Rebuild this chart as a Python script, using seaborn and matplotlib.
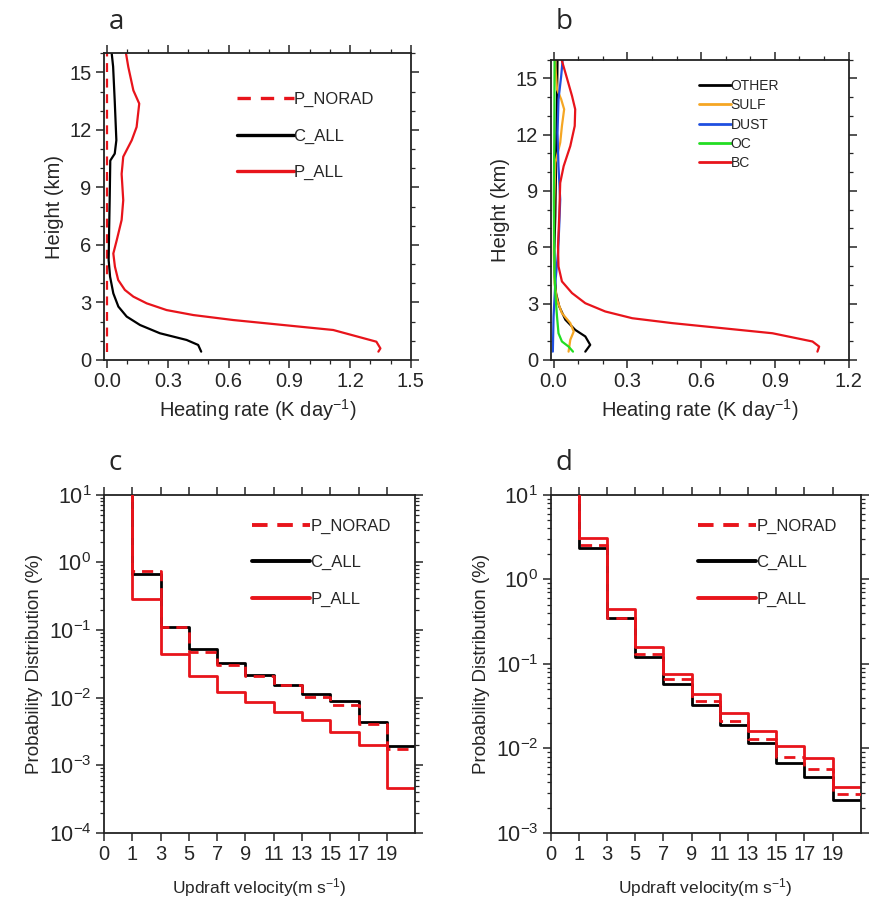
import numpy as np
import pandas as pd
import matplotlib
matplotlib.use("Agg")
import matplotlib.pyplot as plt
from matplotlib.ticker import MultipleLocator, LogLocator, NullFormatter, FuncFormatter
import seaborn as sns

# -------------------------------
# Data: heating rate profiles (panel a)
# -------------------------------
p_norad_h = [0.4, 16.0]
p_norad_rate = [0.0, 0.0]

c_all_h = [0.43, 0.78, 1.04, 1.39, 1.82, 2.26, 2.78, 3.47, 4.34, 5.2, 6.6, 8.33,
           10.4, 10.76, 11.46, 13.5, 15.3, 16.0]
c_all_rate = [0.465, 0.45, 0.393, 0.261, 0.163, 0.097, 0.056, 0.031, 0.015, 0.008,
              0.010, 0.013, 0.016, 0.038, 0.046, 0.038, 0.030, 0.023]

p_all_h = [0.43, 0.6, 0.95, 1.56, 1.82, 2.08, 2.34, 2.6, 2.95, 3.3, 3.65, 4.17, 4.86,
           5.55, 6.25, 7.3, 8.33, 9.7, 10.6, 11.46, 12.15, 13.37, 14.06, 15.28, 15.97]
p_all_rate = [1.34, 1.35, 1.33, 1.117, 0.87, 0.623, 0.426, 0.294, 0.196, 0.13, 0.088,
              0.055, 0.039, 0.031, 0.048, 0.072, 0.080, 0.072, 0.080, 0.122, 0.146,
              0.159, 0.130, 0.105, 0.094]

# -------------------------------
# Data: heating rate by species (panel b)
# -------------------------------
bc_h = [0.44, 0.71, 0.98, 1.42, 1.69, 1.96, 2.22, 2.58, 3.02, 3.56, 4.18, 4.98, 6.05,
        7.65, 9.43, 10.32, 11.39, 12.46, 13.35, 14.06, 15.3, 15.93]
bc_rate = [1.073, 1.08, 1.053, 0.89, 0.686, 0.482, 0.32, 0.21, 0.129, 0.075, 0.034,
           0.020, 0.018, 0.023, 0.027, 0.041, 0.068, 0.086, 0.088, 0.075, 0.048, 0.034]

other_h = [0.44, 0.8, 1.25, 1.6, 2.14, 2.85, 3.56, 4.63, 5.87, 7.65, 10.32, 13.88, 16.0]
other_rate = [0.129, 0.149, 0.129, 0.088, 0.048, 0.023, 0.010, 0.004, 0.003, 0.007,
              0.010, 0.014, 0.016]

sulf_h = [0.44, 1.07, 1.51, 1.96, 2.49, 3.2, 4.09, 5.7, 8.54, 10.5, 11.57, 12.46, 13.35,
          13.88, 14.41, 15.66, 16.0]
sulf_rate = [0.061, 0.068, 0.082, 0.068, 0.034, 0.014, 0.004, 0.001, 0.003, 0.007,
             0.027, 0.034, 0.043, 0.031, 0.014, 0.007, 0.007]

dust_h = [0.44, 2.31, 4.09, 5.7, 7.12, 8.54, 10.32, 12.1, 13.88, 15.12, 16.0]
dust_rate = [-0.003, 0.0, 0.007, 0.018, 0.023, 0.027, 0.020, 0.016, 0.020, 0.031, 0.037]

oc_h = [0.44, 0.71, 0.98, 1.42, 2.31, 3.56, 4.98, 8.54, 12.1, 16.0]
oc_rate = [0.079, 0.061, 0.034, 0.020, 0.014, 0.007, 0.003, 0.001, 0.003, 0.004]

# -------------------------------
# Data: updraft velocity PDFs (panels c, d)
# first value = 0-1 m/s bin (off the top of the axes)
# -------------------------------
bin_edges = [0, 1, 3, 5, 7, 9, 11, 13, 15, 17, 19, 21]
tick_labels = ["0", "1", "3", "5", "7", "9", "11", "13", "15", "17", "19"]

c_pnorad = [98.0, 0.75, 0.11, 0.048, 0.030, 0.0207, 0.0152, 0.0101, 0.0077, 0.0041, 0.00174]
c_call = [98.0, 0.68, 0.11, 0.052, 0.0325, 0.0214, 0.0156, 0.0113, 0.0088, 0.0043, 0.00195]
c_pall = [99.0, 0.287, 0.0447, 0.0207, 0.0121, 0.0087, 0.0062, 0.0047, 0.0031, 0.0020, 0.00047]

d_pnorad = [95.0, 2.52, 0.352, 0.131, 0.0664, 0.0365, 0.0211, 0.0129, 0.0080, 0.0057, 0.0029]
d_call = [95.0, 2.37, 0.346, 0.12, 0.0574, 0.0327, 0.0188, 0.0115, 0.0068, 0.0046, 0.00244]
d_pall = [94.0, 3.11, 0.446, 0.158, 0.0767, 0.0437, 0.0265, 0.016, 0.0107, 0.0078, 0.0035]

# -------------------------------
# Style
# -------------------------------
sns.set_style("ticks")
plt.rcParams["font.family"] = ["Liberation Sans", "DejaVu Sans"]
plt.rcParams["mathtext.fontset"] = "custom"
plt.rcParams["mathtext.rm"] = "Liberation Sans"
plt.rcParams["mathtext.default"] = "regular"
plt.rcParams["axes.linewidth"] = 1.3
plt.rcParams["xtick.major.size"] = 5.5
plt.rcParams["ytick.major.size"] = 5.5
plt.rcParams["xtick.minor.size"] = 3
plt.rcParams["ytick.minor.size"] = 3
plt.rcParams["xtick.major.width"] = 1.1
plt.rcParams["ytick.major.width"] = 1.1
plt.rcParams["xtick.minor.width"] = 0.9
plt.rcParams["ytick.minor.width"] = 0.9
plt.rcParams["xtick.direction"] = "out"
plt.rcParams["ytick.direction"] = "out"
plt.rcParams["axes.edgecolor"] = "#222222"

fig = plt.figure(figsize=(8.74, 9.02), dpi=100)
ax_a = fig.add_axes([0.119, 0.601, 0.351, 0.340])
ax_b = fig.add_axes([0.630, 0.601, 0.341, 0.333])
ax_c = fig.add_axes([0.119, 0.0765, 0.356, 0.375])
ax_d = fig.add_axes([0.630, 0.0765, 0.355, 0.375])

tick_fs = 14.5
label_fs = 14.5


def profile(ax, rate, h, color, label, lw=1.6, ls="-"):
    sns.lineplot(x=rate, y=h, ax=ax, sort=False, estimator=None, color=color,
                 lw=lw, linestyle=ls, label=label)


def style_profile(ax, xmax, xmin):
    ax.set_xlim(xmin, xmax)
    ax.set_ylim(0, 16)
    ax.xaxis.set_major_locator(MultipleLocator(0.3))
    ax.xaxis.set_minor_locator(MultipleLocator(0.1))
    ax.yaxis.set_major_locator(MultipleLocator(3))
    ax.yaxis.set_minor_locator(MultipleLocator(1))
    ax.xaxis.set_major_formatter(matplotlib.ticker.FormatStrFormatter("%.1f"))
    ax.tick_params(which="both", top=True, right=True, labelsize=tick_fs)
    ax.set_xlabel("Heating rate (K day$^{-1}$)", fontsize=label_fs)
    ax.set_ylabel("Height (km)", fontsize=label_fs)


# -------------------------------
# Panel a
# -------------------------------
profile(ax_a, p_norad_rate, p_norad_h, "#e8141b", "P_NORAD", lw=1.6, ls=(0, (4, 3)))
profile(ax_a, c_all_rate, c_all_h, "black", "C_ALL")
profile(ax_a, p_all_rate, p_all_h, "#e8141b", "P_ALL")
style_profile(ax_a, 1.5, -0.015)
leg = ax_a.legend(loc="upper left", bbox_to_anchor=(0.433, 0.875), frameon=False,
                  fontsize=12, handlelength=3.4, handletextpad=0, labelspacing=1.3,
                  borderpad=0, borderaxespad=0)
for line in leg.get_lines():
    line.set_linewidth(2.4)

# -------------------------------
# Panel b
# -------------------------------
profile(ax_b, other_rate, other_h, "black", "OTHER")
profile(ax_b, sulf_rate, sulf_h, "#f5a623", "SULF")
profile(ax_b, dust_rate, dust_h, "#1f4fe0", "DUST")
profile(ax_b, oc_rate, oc_h, "#22dd22", "OC")
profile(ax_b, bc_rate, bc_h, "#e8141b", "BC")
style_profile(ax_b, 1.2, -0.012)
leg = ax_b.legend(loc="upper left", bbox_to_anchor=(0.497, 0.935), frameon=False,
                  fontsize=10, handlelength=2.3, handletextpad=0, labelspacing=0.38,
                  borderpad=0, borderaxespad=0)
for line in leg.get_lines():
    line.set_linewidth(2.0)


# -------------------------------
# Panels c and d: step PDFs
# -------------------------------
def step_pdf(ax, vals, color, label, ls="-", lw=2.0):
    pos = np.arange(len(bin_edges))
    yy = list(vals) + [vals[-1]]
    df = pd.DataFrame({"pos": pos, "pdf": yy})
    sns.lineplot(data=df, x="pos", y="pdf", ax=ax, sort=False, estimator=None,
                 drawstyle="steps-post", color=color, linestyle=ls, lw=lw, label=label)


def style_pdf(ax, ymin):
    ax.set_yscale("log")
    ax.set_ylim(ymin, 10)
    ax.set_xlim(0, len(bin_edges) - 1)
    ax.set_xticks(np.arange(len(tick_labels)))
    ax.set_xticklabels(tick_labels)
    ax.yaxis.set_major_locator(LogLocator(base=10, numticks=10))
    ax.yaxis.set_major_formatter(FuncFormatter(lambda v, p: "10$^{%d}$" % round(np.log10(v))))
    ax.yaxis.set_minor_locator(LogLocator(base=10, subs=np.arange(2, 10), numticks=20))
    ax.yaxis.set_minor_formatter(NullFormatter())
    ax.tick_params(which="both", top=True, right=True, labelsize=tick_fs)
    ax.tick_params(axis="y", labelsize=15.5)
    ax.set_xlabel("Updraft velocity(m s$^{-1}$)", fontsize=12.5, labelpad=8)
    ax.set_ylabel("Probability Distribution (%)", fontsize=13.5)
    leg = ax.legend(loc="upper left", bbox_to_anchor=(0.475, 0.93), frameon=False,
                    fontsize=12, handlelength=3.5, handletextpad=0, labelspacing=1.3,
                    borderpad=0, borderaxespad=0)
    for line in leg.get_lines():
        line.set_linewidth(2.8)


step_pdf(ax_c, c_pnorad, "#e8141b", "P_NORAD", ls=(0, (4, 2.5)))
step_pdf(ax_c, c_call, "black", "C_ALL")
step_pdf(ax_c, c_pall, "#e8141b", "P_ALL")
# dashed on top so it shows over black like the original
ax_c.lines[0].set_zorder(3)
style_pdf(ax_c, 1e-4)

step_pdf(ax_d, d_pnorad, "#e8141b", "P_NORAD", ls=(0, (4, 2.5)))
step_pdf(ax_d, d_call, "black", "C_ALL")
step_pdf(ax_d, d_pall, "#e8141b", "P_ALL")
ax_d.lines[0].set_zorder(3)
style_pdf(ax_d, 1e-3)

# -------------------------------
# Panel letters
# -------------------------------
for x, y, s in [(0.124, 0.976, "a"), (0.636, 0.976, "b"),
                (0.124, 0.487, "c"), (0.636, 0.487, "d")]:
    fig.text(x, y, s, fontsize=20, family=["Open Sans", "DejaVu Sans"], va="center")

fig.savefig("out.png", dpi=100)
